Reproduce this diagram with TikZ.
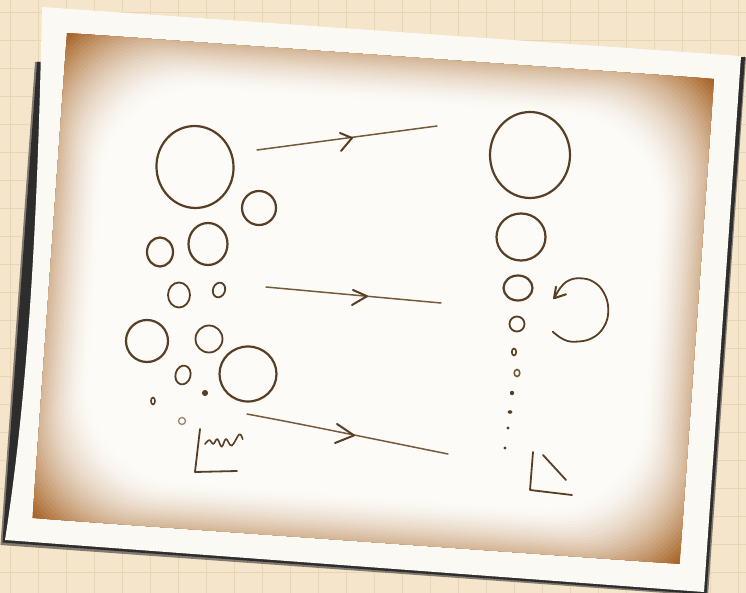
\documentclass[tikz,border=0pt]{standalone}
\usetikzlibrary{calc}
\definecolor{paper}{RGB}{244,229,203}
\definecolor{gridc}{RGB}{233,213,182}
\definecolor{framec}{RGB}{250,249,244}
\definecolor{sepia}{RGB}{160,88,22}
\definecolor{photoc}{RGB}{252,251,247}
\definecolor{ink}{RGB}{88,62,36}
\definecolor{inkl}{RGB}{118,90,60}
\definecolor{shadowc}{RGB}{45,45,45}
\definecolor{shadowl}{RGB}{130,122,112}
\tikzset{
  inkc/.style={draw=ink, line width=2.2pt, line cap=round, line join=round},
  inks/.style={draw=ink, line width=1.8pt, line cap=round, line join=round},
  inkdot/.style={draw=ink, fill=ink, line width=1pt},
  arrline/.style={draw=inkl, line width=1.5pt, line cap=round},
  arrhead/.style={draw=ink, line width=2pt, line cap=round, line join=round},
}
\begin{document}
\begin{tikzpicture}[x=1pt,y=-1pt]
\useasboundingbox (0,0) rectangle (746,593);
\clip (0,0) rectangle (746,593);
% background paper with grid
\fill[paper] (0,0) rectangle (746,593);
\foreach \i in {0,...,26} {
  \draw[gridc, line width=0.9pt] ({10+28*\i},0) -- ({10+28*\i},593);
}
\foreach \j in {0,...,21} {
  \draw[gridc, line width=0.9pt] (0,{12+28*\j}) -- (746,{12+28*\j});
}
% shadow under the curled print
\fill[shadowl] (35,62) -- (746,57) -- (708,596) -- (0.5,545) -- cycle;
\fill[shadowc] (37,62) -- (745,57) -- (706.5,594.5) -- (2.5,542.5) -- cycle;
% white print frame (left edge slightly curled)
\fill[framec] (42,7) -- (741,56) -- (704,592) -- (5,540) .. controls (30,380) and (38,200) .. (42,7) -- cycle;
% photo
\begin{scope}[shift={(67,33)}, rotate=-4.06]
  \begin{scope}
    \clip (0,0) rectangle (648.6,486.2);
    \fill[sepia] (0,0) rectangle (648.6,486.2);
    \foreach \k in {0,...,30} {
      \pgfmathsetmacro\d{-30+2.5*\k}
      \pgfmathsetmacro\p{100*(1-(1-(\k+1)/31)^1.6)}
      \fill[photoc!\p!sepia, rounded corners=100pt] (\d,\d) rectangle ({648.6-\d},{486.2-\d});
    }
  \end{scope}
\end{scope}
% left column
\draw[inkc] (195,167) ellipse [x radius=38.5, y radius=41, rotate=6];
\draw[inkc] (259,208) ellipse [x radius=17, y radius=17];
\draw[inkc] (208,244) ellipse [x radius=19.5, y radius=21];
\draw[inkc] (160,252) ellipse [x radius=13, y radius=14.5];
\draw[inks] (179,295) ellipse [x radius=11, y radius=12.5];
\draw[inks] (219,290) ellipse [x radius=6, y radius=7.5, rotate=-20];
\draw[inkc] (147,341) ellipse [x radius=21, y radius=21];
\draw[inks] (209,339) ellipse [x radius=13.5, y radius=13.5];
\draw[inkc] (248,374) ellipse [x radius=28.5, y radius=27.5];
\draw[inks] (183,375) ellipse [x radius=7.5, y radius=9.5, rotate=-15];
\draw[inkdot] (205,393) circle [radius=2.5];
\draw[draw=ink, line width=1.6pt] (153,401) ellipse [x radius=2, y radius=3.5];
\draw[draw=inkl!70, line width=1.4pt] (182,421) circle [radius=3.5];
% chart icon
\draw[inks] (200,429) -- (195,472) -- (237,471);
\draw[draw=ink, line width=1.6pt, line cap=round, line join=round] plot[smooth, tension=0.6] coordinates {(205,444) (209.3,440) (213.3,444) (217.3,439) (221.7,446.7) (226,439) (231.7,445.7) (239.3,434.3) (242.7,439.3)};
% right column
\draw[inkc] (530,155) ellipse [x radius=40, y radius=43];
\draw[inkc] (521,237) ellipse [x radius=24.5, y radius=23.5];
\draw[inkc] (518,288) ellipse [x radius=14.5, y radius=12.5];
\draw[inks] (517,324) circle [radius=7.5];
\draw[draw=ink, line width=1.6pt] (514,352) ellipse [x radius=2.2, y radius=3.5];
\draw[draw=inkl, line width=1.6pt] (517,373) ellipse [x radius=2.8, y radius=3.5];
\fill[ink] (512,393) circle [radius=2.2];
\fill[ink] (510,412) ellipse [x radius=2.4, y radius=1.8];
\fill[ink] (508,428) circle [radius=1.6];
\fill[ink] (505,448) circle [radius=1.6];
% triangle icon
\draw[inks] (533,452) -- (530,490) -- (572,495);
\draw[inks] (543,455) -- (566,480);
% rotation arrow
\draw[inks] plot[smooth, tension=0.7] coordinates {(552.7,331.7) (563.3,339.3) (575,341.7) (591.7,338.3) (604,326.7) (608.3,310) (604,293) (593.3,281.7) (580,278.3) (568.3,280.7) (560,288.3) (554.5,298)};
\draw[arrhead] (556,286.7) -- (554,298.3) -- (566,294.3);
% straight arrows
\draw[arrline] (257,150) -- (437,126);
\draw[arrhead] (340,133) -- (352,138) -- (341,151);
\draw[arrline] (266,287) -- (441,303);
\draw[arrhead] (353,290) -- (367,296.2) -- (352,305);
\draw[arrline] (247,414) .. controls (300,424) .. (448,454);
\draw[arrhead] (337,424) -- (354,435.4) -- (335,443);
\end{tikzpicture}
\end{document}
